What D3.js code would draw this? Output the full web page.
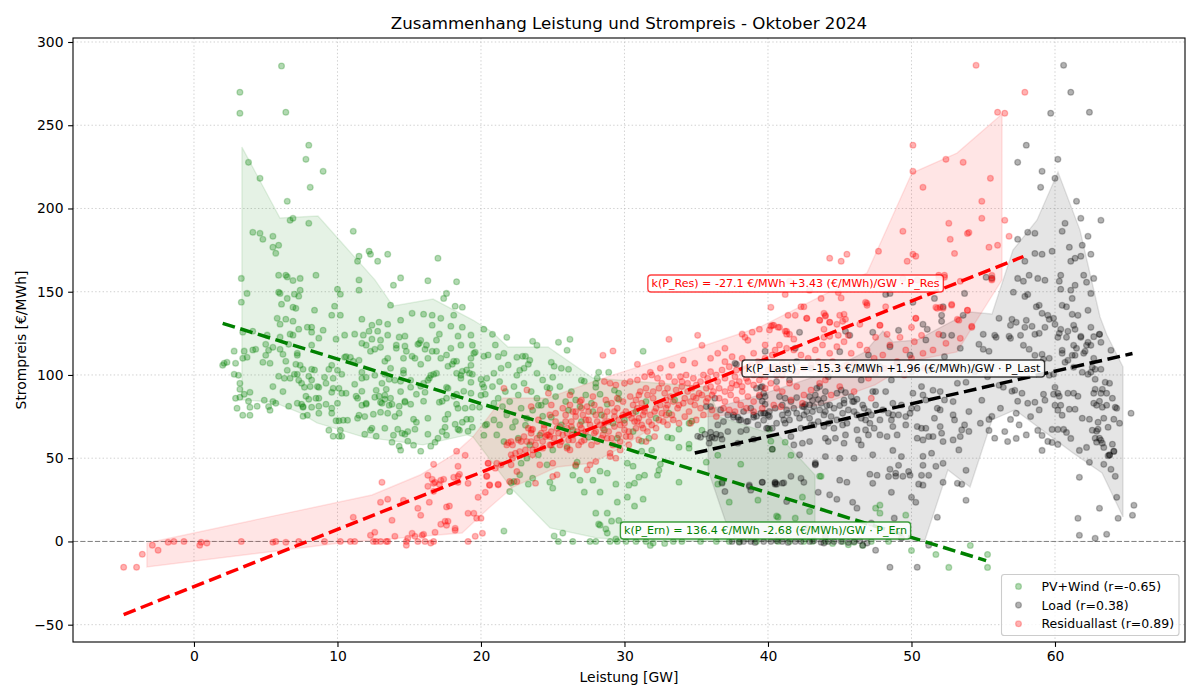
<!DOCTYPE html>
<html lang="de">
<head>
<meta charset="utf-8">
<title>Zusammenhang Leistung und Strompreis</title>
<script src="https://cdn.jsdelivr.net/npm/d3@7"></script>
<style>
  html, body { margin: 0; background: #fff; }
  svg { display: block; }
  text { font-family: "DejaVu Sans", sans-serif; fill: #000; }
</style>
</head>
<body>
<svg id="chart" width="1200" height="700"></svg>
<script>
// Stündliche Werte Oktober 2024: [Leistung in GW, Strompreis in €/MWh]
const pvWindPoints = [
[6.1,285.6],[3.2,269.8],[3.2,257.2],[6.4,257.8],[8,238],[7.8,229.5],[3.8,227.7],[9,222.3],[4.6,218.1],[8.1,212.7],[6.5,204.3],[6.9,194.1],[6.7,192.9],[8,191.1],[11.1,186.3],[4.1,185.7],[4.6,185.1],[5.5,183.3],[4.8,181.5],[5.9,177.9],[5.5,176.7],[5.7,173.1],[12.2,174.3],[12.3,172.5],[11.5,171.3],[13.5,172.5],[11.4,168.3],[12.8,168.3],[17,170.1],
[3.3,158],[5.9,159.9],[6.4,159.9],[6.5,158.9],[6.9,156.7],[7.4,158],[8.5,159.9],[11.5,157],[14.4,158.3],[16.3,156.6],[18.3,156],[13.9,153.9],[3.7,149],[5.9,149.7],[6,149],[7,148.5],[7.4,150.9],[7.3,147.3],[6.5,146],[10,151.5],[10.2,148.5],[11.5,150.9],[3.3,143.7],[6.1,142.5],[6.9,140.7],[7.1,140],[9.8,141.3],[8.4,138.9],[9.6,135.9],[10.2,135.9],[13.7,141.9],[17.6,149],[17.4,146],[18.2,141.3],[18.7,140.7],[15.2,137],[16,136.5],[16.6,135.9],[17.2,134],[18.1,135.9],[11.7,133.5],[14.4,132.9],[5.8,134],[6.4,133.5],[6.9,132.3],[6,130.5],[13.5,130.5],[12.9,131.7],[12.4,129.9],[16.6,129.9],[17.9,129.3],[18.7,128.7],[20.2,127.5],[7.9,128.7],[8.2,128.7],[7.3,127.5],[9,126.9],[8.2,125.7],[12.2,126.3],[12.8,126.3],[10.5,123.9],[11.2,124.5],[11.8,123.9],[17.1,124.5],[18.4,123.3],[19.3,123.9],[13.5,123.9],[14.3,122.7],[14.7,123.3],[3.4,125.7],[4.1,126.3],[5.1,123.9],[6,122.7],[6.7,124.5],[6.9,123.9],[8.7,122.1],[9.9,121.5],[12.4,121.5],[13,120.9],[16.9,120.9],
[2.8,114.3],[3.5,114.3],[3.4,110],[3.7,110.6],[4.1,115],[4.3,115.4],[2,105.8],[2.1,107],[2.3,107.6],[2.9,107],[2.8,100.4],[3.1,99.8],[3.2,95],[3.2,91.4],[2.9,86],[3.2,86.6],[3.5,88.4],[3.9,89.6],[3.8,84.2],[3,80],[3.9,80.6],[3.4,75.8],[3.9,75.8],[4.4,81.2],[4.9,84.8],[5.2,81],[5.3,78.8],[5.5,84],[5.7,83],[6.6,81.2],[7.2,83],[7.5,82.4],[7.6,81],[7.6,80.6],[7.6,75.2],[7.9,75.8],[8.2,80.6],[8.7,81.2],[8.7,77],[9.2,82.4],[9.6,80],[9.6,77],[10,83],[7.8,87.2],[8,85.4],[8.5,86],[8.7,86],[9.6,89.6],[10.1,92],[10.3,89],[10.6,89],[9.7,92],[5.9,99.2],[6.3,98],[6.7,98],[6.5,102.8],[7,100.4],[7.2,100.4],[7.1,106.4],[7.4,105.8],[7.6,103.4],[7.3,96.8],[7.5,95],[7.7,92.6],[8.1,93],[8.2,103.4],[8.4,103],[8,99.2],[8.2,97],[8.6,93],[8.7,92.6],[9.2,95],[9.1,98.6],[9.4,103.4],[9.6,105.8],[10,102.8],[10.3,100.4],[9.7,98],[5.5,93],[6.2,90],[4.8,107.6],[5.3,107],[5,111.8],[5.2,114.8],[5.5,116.6],[5,118.4],[6,115.4],[6.2,112.4],[6.4,108.2],[7.2,113],[7.2,111.8],[6.6,118.4],[8.2,117.9],
[10.7,72.8],[9.9,72.5],[10.1,72.5],[10.4,72.8],[9.4,66.8],[10.2,66.8],[9.7,63.2],[10.1,63.2],[10.3,63.2],[11.2,94.4],[11.7,90.2],[11.3,87.2],[11.4,86],[11.7,81.8],[12,82.4],[12,83],[11.5,75.8],[11.4,74],[11.9,75],[11.9,64.4],[12.7,63.2],[12.4,68],[12.3,66.8],[13.3,68],[13.9,63.8],[13.8,59.6],[14.3,57.2],[14.4,54.8],[14.2,67.4],[14.5,65],[14.7,64.4],[14.9,66],[14.9,60.2],[15.3,57.8],[15.4,67.4],[16.3,64.4],[15.8,54.2],[16.5,57.2],[16.8,59.6],[17,62],[17.3,66],[17.5,68.6],[17.6,63.8],[17.7,76.4],[16.3,74],[15.3,73.4],[15.5,71.6],[14.3,77],[14,75],[13.5,77],[13,77.6],[12.5,76.4],[12.6,86.6],[12.7,90.8],[12.9,87.2],[13.3,87.8],[13.4,91.4],[13.7,86],[13.8,82.4],[13.6,81.8],[13.1,83],[13,83.6],[13.3,85.4],[14.4,90],[14.7,84.2],[14.3,81.2],[15.1,82.4],[14.7,83.6],[16,84.2],[16.1,89.6],[15.5,88.4],[15.8,93.2],[15.1,92.6],[14.6,102.8],[14.6,101],[14,96.8],[14.4,96.2],[13.6,97.4],[13.3,100.4],[13.7,104],[12.6,99.8],[12,98.6],[11.7,98],[11.7,101.6],[13.1,95],[10.6,111],[10.9,110.6],[11.1,108.2],[11.5,108.8],[10.5,110.6],
[11.7,119],[12,117.9],[12.3,114.2],[12.6,115.4],[13,116.6],[13.3,108.2],[13.5,110],[14.1,116],[14.1,117.9],[14.7,117.3],[14.8,114.2],[14.6,110],[15.2,111.2],[15.4,110],[15.6,118.4],[15.8,120.8],[15.7,119],[16.2,117.9],[16.1,115.4],[16.3,110],[15.8,106.4],[16.6,114.2],[16.9,114.2],[17.2,110],[17.6,112],[17.9,116],[18.1,108.2],[18.3,108.2],[17.7,105.2],[18,106.4],[18.6,117.9],[19.4,117.9],[19.5,113],[19.6,113.6],[19.3,110],[20.2,111.2],[20.5,112],[19.3,105.8],[19.2,101],[19.4,100.4],[18.3,101],[19,103],[18.7,102.2],[18.6,99.8],[18.6,98],[16.9,101],[16.7,100.4],[16.5,99.8],[16.4,98],[16.3,96.8],[16,95],[15.1,96.8],[19.3,95.6],[20,97.4],[20.4,98],[20.1,94.4],[20.2,92.6],[20.3,88.4],[20,87.8],[19.3,89],[18.8,90.2],[18.3,82.4],[18.4,80],[18.9,80],[19.4,80.6],[19.9,80.6],[18.3,88.4],[18.1,87.2],[17.6,92.6],[17.7,92],[17.6,86],[17.3,84.2],[17.1,83.6],[17.5,73.4],[18.2,70.4],[18.4,67.4],[18.5,66.8],[18.7,71.6],[19,73.4],[19.3,73.4],[19.4,68.6],[19.1,66.2],[20.4,70.4],[20.3,69.8],[20.2,63.8],
[20.8,124.4],[21.8,122.6],[23.6,120.2],[23.9,117.8],[25.4,119.6],[26.2,121.4],[26,114.8],[31.3,114.2],[22.5,110.6],[22.9,111.2],[23.1,111.2],[23.4,108.8],[23.3,106.4],[23,104],[22.7,102.8],[22.5,99.8],[24.9,107.6],[25.1,105.2],[25.6,104],[26.1,103.4],[23.9,101],[25,98.6],[24.6,92.6],[24.8,92],[27,96.8],[27.2,96.2],[28.9,101.6],[28.2,101.6],[28.1,98],[28,95],[28,92.6],[29.3,90.8],[29.6,89],[28.3,88.4],[29.6,85.4],[28.8,82.4],[24,81.8],[24.2,81.8],[26.1,78.8],[24.9,74.6],[24.3,75.2],[23.6,78.8],[22.2,68.6],[23.1,69.8],[24.1,63.8],[27.5,62.6],[31.2,60.2],[31.7,62],[33.8,67.4],[33.1,77],[34.7,72.2],[34.5,71],[33.8,56.6],[34.5,58.4],[34.5,56],[31.9,54.8],[31.2,54.2],[33.3,62],[33,62.6],[35.4,66.8],[36.5,51.8],[35.7,47.6],[38.1,46.4],[33.8,35.6],[30.2,47],[30.6,45.2],[32.5,46.4],[32.4,42.8],[32.3,39.8],[31.4,39.8],[31,38.6],[30.7,35],[30.3,33.8],[29.4,34.4],[28.3,29.6],[28.3,42.2],[28.8,41],[27.8,36.8],[26.7,47.6],[26.6,45.2],[26.9,36.8],[26.4,39.8],[25,32],[24.8,35.6],[27.2,29.6],[29.5,23.6],[30.2,26.6],[31.3,25.4],[30.7,21.2],[28,17],[28.8,17],[29.1,12.2],[28.2,10.4],[28.3,9.8],[28.7,7.4],[28.8,5],[29.6,12.6],[25.7,5],[25.1,3.2],[21.6,6.2],[25.4,0],[26.4,0],[27.6,0],[28,0],[29,0],[29.4,1.4],[29.5,0],[30.1,0],[30.8,0],[31.5,0],[31.8,-2.4],[32,-1],[32.8,-1.2],[33.4,0],[34,0],[35.3,0],[36.4,0],[36.5,34.4],[36.8,35.6],[37.3,23.6],[39.3,24.8],[40.7,14.6],[22.7,40],[22.3,36],[22.1,35.2],[23.3,34.4],[23.6,38],[22.8,47],[22,30],[24.6,46],
[21,118],[21.2,111],[21.6,113],[21.4,104],[21.9,106],[20.9,101],[21.3,96],[20.8,93],[21.7,90],[21.2,86],[20.9,83],[21.5,81],[22,84],[22.3,93],[22.6,88],[23,95],[23.5,90],[23.9,86],[24.3,97],[24.5,84],[25.2,87],[25.5,93],[25.9,84],[26.3,90],[26.6,85],[26.9,81],[27.3,88],[27.7,83],[27.8,78],[28.4,76],[22.8,80],[23.2,74],[22.4,72],[21.8,76],[21.3,70],[20.9,73],[21.1,64],[21.6,60],[22.6,62],[23.4,58],[25.6,70],[26.4,67],[27,72],[28.6,67],[29.2,71],[30,73],[30.6,66],[29.5,62],[26,57],[25,55],[24,52],[23.2,50],[30.8,78],[31.5,84],[32.2,74],[33.5,85],
[40.2,60.2],[41.2,59.6],[41.6,51.8],[40.3,55.4],[40.1,67.4],[43.6,39.2],[43.7,39.1],[42.4,26.6],[40.6,15.2],[41.9,14],[47.5,20],[47.8,21.8],[47.8,17],[49.6,15.8],[54.1,-2.4],[50,-5.4],[51.7,-7.8],[55.3,-7.8],[55.3,-15.6],[52.6,-15.6],[44.5,-1.2],[46.6,-2.4],[37.3,0],[38,0],[39.2,0],[40.7,0],[41.5,0],[42.5,0],[43.1,0],[44,0],[45.2,0],[46,-0.5],[47.2,0],[48.4,0],[45.6,-2],[42.9,18],[43.8,8]
];

const loadPoints = [
[60.6,286],[61.1,269.8],[59.7,257.2],[62.4,257.8],[58,238],[60.2,229.5],[57.4,227.7],[59.1,222.3],[60,218.1],[59,212.7],[61.5,204.3],[61.8,194.1],[63.2,192.9],[60.7,191.1],[60.5,186.3],[58.1,185.7],[58.6,185.1],[62.3,183.3],[57.4,181.5],[61.9,177.9],[61,176.7],[58.6,173],[59.1,172.5],[59.8,174.3],[62.5,172.5],[61.8,171.3],[61.4,170.1],[61.1,168.3],[57.9,168.3],[62.7,158],[62,159.9],[60.4,159.9],[60.3,156.3],[62.2,155.7],[58.2,159.9],[57.4,158],[57.8,156.3],[58.8,158],[59.3,156.9],[61.4,153.9],[60.4,151.5],[61.1,150.9],[57.1,149.7],[62.5,149],[58.1,148.4],[57.9,147.2],[61.2,146],[60.5,141.8],[60.8,141],[58.7,141],[58.9,141.8],[62.3,138.8],[59.1,137],[59.5,135.8],[59.9,134],[59.6,133.4],[61.2,136.4],[61.6,135.8],[56.1,134],[57,133.4],[57.3,131.6],[58,132.8],[60,130.4],[56.9,129.8],[57.9,128.6],[58.4,129.2],[59.3,128.6],[61.3,129.8],[62.5,128.6],[60.4,127.4],[60.9,126.2],[61.4,127.4],[63.1,124.4],[55,124.4],[55.8,123.8],[56.8,123.2],[57.6,123.8],[58.6,124.4],[58.9,125],[60.2,122.6],[61.8,122.6],[62.7,123],
[55.2,158.7],[55.6,158.2],[53.6,135.8],[52.1,135.8],[52.1,132.2],[50.8,130.4],[51.1,127.4],[53.7,149],[51.6,146],[52.2,141],[50.1,143.6],[48.2,148.4],[48.5,149],[52.2,123.8],[52.8,123.8],[47.3,125.6],[49.1,126.8],[42.2,125.6],[45.4,126.2],[45.7,123.8],
[65.3,77],[65.5,21.7],[65.4,15.7],[64.4,13.9],[64.3,26.5],[63.1,19.9],[61.6,13.9],[61.7,3.7],[62.8,1.9],[63.6,4.3],[61.7,38.5],[64.2,39.1],[63.4,46.3],[63.9,43.3],[62.4,47.5],[63.7,51.5],[63.8,52],[64.1,54.1],[61.7,54.7],[62.2,56.5],[63.4,56.5],[57.3,61.9],[59.1,54.7],[59.5,60.1],[59.8,59.5],[60.2,58.3],[61.1,61.9],[59.1,63.7],[58.8,66.7],[59.8,67.3],[60.2,67.3],[60.6,67.3],[60.8,65.5],[56.9,73.3],[55.4,73.3],[55.6,75.1],[55.4,66.7],[54,66.1],[53.8,42.7],[53.2,34.9],[53.5,34.3],[53.8,24.7],[52.2,35.5],[51.8,14.5],[52.2,46.9],[51.7,45.1],[50.8,51.1],[48.7,54.7],[50.8,45.7],[51.2,39.7],[50.7,39.7],[50.5,34.4],[50.8,33.8],[49.8,42],[49.9,39.8],[49.4,39.1],[48.9,41],[48.9,39.2],[48.4,39],[48.5,43.3],[49.1,45.7],[47.1,40.4],[47.6,39.8],[47.3,34.9],[48.6,29.5],[45.0,36.8],[45.5,35.6],[44.8,25.3],[45.9,23.5],[50,26.5],[50.3,23.5],[43.5,29.5],[42.3,37.9],[42.5,35.5],[41.6,39.1],[40.5,35.5],[40.6,34.4],[41,35],[41.1,35.2],[39.6,35.5],[43.3,47.2],[43.3,46.4],[47.5,-5.3],[48.5,-15.5],[50.4,-15.5],[51.2,-2.3],[46.6,-2.3],
[55.9,122.6],[56.9,122],[54.7,118.4],[55,115.4],[55.4,114.2],[57.8,117.8],[58.2,115.4],[58.6,111.8],[59.1,112.4],[59.2,109.4],[59.6,110],[60.5,114.8],[60.5,113],[61.3,117.8],[61.5,116],[62.2,117.8],[62.3,119.6],[62.5,117.8],[63.2,119.6],[63.9,114.8],[63.1,124.4],[60.8,122.6],[60.3,125],[61.8,123.2],[61.2,111.8],[61.4,111.8],[62.1,114.2],[62,113],[62.7,110],[60.9,108.8],[60.7,107.6],[61.3,104.6],[61.9,101.6],[62.6,104.6],[62.8,103.4],[63.2,103.4],[62.5,101.6],[62.3,100.4],[62.8,97.4],[63.8,95],[63.5,95.6],[63.3,91.4],[62.8,91.4],[63.2,89],[63.6,89],[63.1,84.2],[62.7,83],[62.9,81.8],[63.6,81.8],[63.3,80.6],[64.2,80.6],[64.3,80],
[59.9,100.4],[59.6,99.8],[60,92.6],[59.9,88.4],[60.2,89],[60.3,87.2],[60.9,89],[61.3,89],[61.6,87.2],[62.7,89],[64,86],[59.3,84.8],[58.6,83.6],[58.1,83],[57.4,84.2],[59.2,88.4],[57.2,90.8],[57,90.2],[57.7,89],[56.4,92.6],[56.1,93.8],[53.8,95.6],[53.2,95],[54.9,84.8],[51.5,90.8],[60.4,81.8],[60,81.8],[60.2,78.8],[60.5,75.8],[61,79.4],[61.4,79.4],[61.9,74],[62.4,73.4],[63,71.6],[63.4,74],[63,67.4],[64.1,73.4],[64.5,71],[63.7,68.6],[62.9,66.2],[62.6,66.8],[63.1,62],[62.8,62],[63.2,60.8],[62.9,59.6],[63.3,59],[64,58.4],[64.1,54.2],[63.8,51.8],
[39.8,87],[40.8,87],[41.2,86],[41.8,80],[42.4,81],[42.9,82],[43.6,93],[44,90],[44.8,89],[45.3,85],[46,84],[46.7,80],[47.5,90],[48.2,90],[48.7,83],[50.1,89],[50.7,93],[50.8,88],[51,85],[52,90],[52.3,85],[52.9,84],[51.8,80],[52,79],[50,80],[50.4,80],[47.8,73],[46.8,73],[47.2,76],[48.4,77],[48.7,76],[49.1,76],[49.6,75],[49.9,77],[52.9,76],[53,73],[54,78],[50.4,69],[50.7,68],[51,68],[52,69],[52.1,65],[51.5,63],[51.2,63],[52.2,60],[52.9,61],[53.5,67],[53.4,63],[50.8,61],[50.4,62],[49,64],[48.7,69],[48.6,73],[48.3,63],[47.8,64],[47,64],[46.8,67],[46.2,67],[45.4,64],[45.3,59],[46.3,61],[46.5,58],[44.6,68],[44.7,62],[44.2,60],[44,62],[42.9,60],[42.4,59],[43.9,69],[43.2,70],[42.3,68],[41.2,71],[41,76],[40.1,75],[39.8,77],[39.9,68],[41.6,63],[41.8,58],[42.2,52],[43.3,46],[44,51],
[35.1,63.2],[35.3,62.6],[35.6,64.4],[36,65.6],[36.1,62.6],[36.4,64.4],[36.7,63.8],[36.8,61.4],[35.9,62],[35.9,59],[36.3,62],[35.7,81],[36,81],[36.3,86],[36.7,79],[37.2,76],[37.6,74.6],[37.9,74.6],[38.1,73],[38.6,72.2],[39,74.6],[39.2,75.2],[39.5,77],[39.7,72.8],[40,75.8],[39.4,87],[39.7,89],[39.6,84.2],[39.8,82.4],[39.5,92.6],[37.7,107],[37.8,106.4],[39.8,114.2],[38.5,67],[40,68],[40.3,68],[39,61.4],[37.9,59],[40.3,55.4],[39.6,35.6],[40.5,35.2],[40.5,34.4],[38.8,30.8],[38.7,33.8],[38.7,33],
[39.2,92],[39.6,93],[40.6,96],[41.5,97],[41.9,116],[45,114],[43.4,92],[43.3,88],[42.9,87],[42.5,81],[43.2,81],[43.7,83],[44.3,82],[45.1,91],[45.3,83],[45.9,84],[46.6,82],[47.3,90],[37.6,76],[38,73],[38.5,72],[39,76],[39.7,77],[40.1,78],[41.1,73],[41.5,73],[42.5,76],[42.9,74],[43.9,76],[44.8,73],[45.5,71],[46.2,76],[47.1,71],[41.3,79],[41.6,84],[42,86.4],[42.6,82.2],[43.1,84.6],[43.5,85.2],[43.9,86],[44.1,81.6],[44.6,80],[45,81.6],[45.4,89.4],[45.8,87],[46.2,85.4],[41.2,103],[42,108],[43,104],[44.2,99],[46.5,97],[47.8,105],[49,107],[50,102],[51.3,103],[53.3,105],[54.4,102],[55.3,99],[48.6,97],[47,112],[48.5,117],[49.9,112],[51,121],[52.3,111],[53.4,116],[46.2,103],
[38.3,78],[38.8,80],[40.5,80],[41,82],[41.4,77],[42,77],[42.2,74],[42.7,78],[43.1,78],[43.6,79],[44,78],[44.4,75],[45.2,77],[45.6,79],[46,78],[46.5,74],[47,78],[47.5,82],[48,79],[49.3,82],[43,70],[43.5,72],[44.2,71],[40.6,71],[39.3,70],[38.1,66],[37.2,66],[36.9,72],[36.5,70],[45.2,70],[47.4,68],[49.6,70],[51.6,74],[53.7,70],[54.8,71],[56.2,80],[57.3,77],[58.3,75],[58.9,79],[56.5,66],[57.5,70],[58,64],[56.7,60],[55.8,62],[45,50],[46,50],[47.3,52],[49.3,51],[51.4,53],[53.3,55],
[37.5,0],[38,-0.5],[38.3,0],[38.8,0],[39.1,-0.6],[39.7,0],[40.2,0],[40.6,0.4],[41,0],[41.4,-0.6],[41.9,0],[42.3,0],[42.9,0],[43.2,0.4],[43.7,-0.5],[44.2,0],[44.6,0],[45.1,0],[45.6,-0.6],[46,0],[46.4,0.4],[44,3],[44.9,6],[42.7,8],[43.9,-1],[46.9,-1],[36.8,35],[37,30],[46.2,20],[47.2,11],[48.8,14],[49.3,2],[44.3,28],[41.3,24]
];

const residualPoints = [
[54.5,286],[57.9,269.8],[56,257.8],[56.5,257.2],[50.1,238],[52.4,229.5],[53.6,227.7],[50.1,222.3],[55.5,218.1],[50.8,212.7],[54.9,204.3],[54.9,194.1],[56.5,192.9],[52.6,191.1],[49.4,186.3],[53.9,185],[54,185.6],[56.8,183.3],[52.7,181.5],[56,177.9],[55.4,176.7],[53,173],[47.7,174.3],[50.1,172.5],[50.3,171.3],[45.5,172.5],[44.3,170.1],[49.7,168.3],[45.1,168.3],[51.9,159.9],[52.3,159.9],[55.6,159.8],[55.6,157.8],[53.4,156.3],[41.5,156.3],[42.9,150.9],[44.9,149.5],[45.1,146.2],[43.7,146],[41.2,148.4],[46.8,143.6],[46.9,141.8],[48.2,141],[40.2,140.6],[42.3,141],[42.5,141],[52,140.6],[51.7,140.6],[52.8,142.4],[53.9,138.8],[50.3,134],[53.2,133.4],[41.4,135.8],[41.9,135.8],[42.7,134],[43.6,132.8],[43.9,137],[44,135.8],[45,135.8],[45.3,136.4],[45.4,133.4],[45.2,132.2],[44.3,131.6],[44.8,130.4],[46.4,130.4],[47.8,129.8],[50,128.6],[54.2,128.6],[40.3,129.8],[40.8,128.6],[40.1,127],[41.3,126.2],[43.9,127.4],[41.5,124.4],[44.9,123.8],[44.3,123.2],[43.9,122.6],[45.6,123.8],[47.5,122.6],[48.3,124.4],[49.2,122.6],[50.7,123.8],[51.9,124.4],
[-4.9,-15.5],[-4,-15.5],[-3.6,-7.7],[-2.9,-2.3],[-2.5,-5.3],[-1.8,-0.5],[-1.4,0],[-0.7,0],[0.4,-2.3],[0.5,-0.5],[0.9,-1],[3.3,0],[5.5,-0.5],[5.7,0],[6.4,-0.5],[7.3,0],[9.1,0],[10.2,0],[10.9,0],[11.2,0],[12.3,3.7],[12.6,5.5],[11.1,14.5],[12.5,0],[12.7,0],[13,0],[13.4,0],[13.5,0],[13,23.5],[13.5,25.3],[13.1,35.5],[13.8,12.7],[14,3.1],[14.6,24.7],[14.8,0],[14.8,-2.3],[14.9,1.9],[15.2,4.9],[15.4,3.1],[15.9,3.7],[16,4.3],[15.6,0],[16.1,0],[16.5,-1],[16.7,0],[16.8,5.5],[15.6,19.9],[15.8,15.7],[16.4,23.5],[16.3,39.7],[16.3,33.1],[16.6,37.3],[16.7,46.3],[16.7,34.9],[16.7,30.1],[16.8,35.5],[17.1,34.3],[17.2,36.7],[17.4,37.3],[17.2,10.3],[17.5,12.1],[17.7,12.1],[17.6,9.7],[17.6,20.7],[17.8,21.3],[18.2,6.7],[18.2,7.9],[18.1,38.5],[18.4,45.1],[18.3,54.2],[18.9,51.7],[18.4,39.1],[18.5,40.3],[18.4,35.5],[19.1,16.9],[19.5,16.9],[19.7,13.9],[20,13.9],[19.1,0],[19.6,3.1],[20.1,4.9],[19.8,26.5],[20.3,29.5],[20.6,33.7],[20.5,46.9],[21.2,34.3],[21.1,46.9],[19.1,34.9],
[23.2,91],[24.7,89],[21.6,92],[26.2,88],[24.8,76],[23.5,81],[23.6,67.4],[24.6,64],[23.3,68],[23.5,67],[21.9,59.4],[22.1,60],[21.8,58],[22.2,58],[22.6,61],[22.8,60],[23.2,60],[23.5,60],[24.5,63],[24.7,64],[24.8,63],[25.4,65],[25.5,69],[25.9,72],[26.3,72],[26.6,75],[26,68],[26.3,69],[26.9,70],[27.3,73],[27.5,73],[27.1,65],[27.2,61],[26.1,61],[26,56],[26.2,55],[27,60],[25.5,58],[22.1,52],[22.4,53],[22.7,54],[23.1,55],[23.6,55],[24.3,56],[24.8,58],[23.6,52],[22.1,46],[21.4,46],[22.2,50],[21,44],[20.5,47],[22.5,42],[20.4,39],[20.4,39.4],[20.6,34],[21.2,34],[25,39],[22.5,36],[22,36],[24.1,46],[25,47],[26.6,46],[27.4,43],[27.6,46],[28,48],[23.8,35],[25.3,40],[29,53],[29.4,50],
[28.5,111.8],[29.2,114.4],[30.9,106.4],[33.1,121.4],[35.1,123.8],[35.4,117.8],[33.3,105.8],[31.8,101.6],[32.5,104],[34.1,109],[34.9,107],[36,110],[36.5,113],[37,116],[37.5,111],[38.2,124.5],[38.4,122.6],[38.6,120.8],[38.9,125.7],[39.4,127.5],[40.2,129.3],[40.4,129.9],[40.7,128.7],[41.2,126.3],[41.3,124.5],[41.8,121.5],[42.7,134],[43.6,132.9],[44,135.3],[44.3,131.7],[46.9,143],[47.8,129.9],[50.3,134],[53.9,138.9],[52.8,141.9],[52.2,140],[51.8,140],[53.3,132.9],[54.2,129.3],[55.6,157],[52.3,158.7],[51.9,158.7],[49.4,158],[50.4,157],
[28.6,96],[29,95],[29.4,94],[30,95],[30.4,96],[30.9,97],[31.4,99],[31.9,100],[32.3,98],[33.1,99],[33.9,99],[34.3,100],[34.8,98],[35.3,96],[35.8,98],[36.4,100],[36.8,103],[37.3,105],[37.8,103],[38.3,102],[38.8,106],[39.3,108],[39.8,110],[40.3,112],[40.8,118],[41.3,116],[41.8,115],[42.3,112],[42.8,110],[43.3,115],[43.8,118],[44.3,113],[44.8,117],[45.3,120],[45.8,113],[46.4,118],[46.9,115],[47.4,110],[48,112],[48.5,118],[49,108],[49.6,115],[50.2,120],[50.8,113],[51.5,115],[52.4,119],[53.4,122],[36,93],[36.5,96],[37,98],[37.5,95],[38,96],[38.5,98],[39,94],[39.5,100],[40,103],[40.5,105],[41,107],[41.5,106],[42,102],[42.5,104],[43,106],[43.5,108],[44,105],[44.5,108],[45,104],[45.5,106],[46,107],[46.5,104],[47,98],[47.5,101],[48.1,104],[49.5,100],[50,110],[50.9,104],
[27,80],[27.4,81],[27.9,82],[28.3,79],[28.7,85],[29.1,83],[29.5,86],[29.9,84],[30.4,87],[30.8,85],[31.2,83],[31.6,88],[32,90],[32.4,92],[32.8,89],[33.2,87],[33.6,91],[34,93],[34.4,90],[34.8,87],[35.2,89],[35.7,92],[36.1,88],[36.6,86],[37,84],[37.4,88],[37.8,85],[38.2,90],[38.6,87],[39,84],[39.4,88],[39.8,92],[40.2,95],[40.6,92],[41,90],[41.5,95],[42,93],[42.5,88],[43,91],[43.6,95],[44,97],[44.4,88],[45,93],[46,90],[47.2,86],
[28.5,68],[28.9,72],[29.3,75],[29.7,70],[30.1,78],[30.5,74],[30.9,80],[31.3,76],[31.7,72],[32.1,78],[32.5,82],[32.9,80],[33.3,76],[33.7,80],[34.1,83],[34.5,78],[34.9,82],[35.3,80],[35.7,84],[36.1,79],[36.4,75],[36.9,80],[37.3,79],[37.7,78],[38.1,82],[38.5,80],[39,78],[39.6,80],[40.4,82],[40.9,81],[41.6,85],[42.4,83],
[27.7,58],[28.1,60],[28.4,62],[28.8,62],[29.2,58],[29.6,64],[30,67],[30.4,63],[30.8,68],[31.2,70],[31.6,66],[32.2,68],[32.7,72],[33,70],[33.4,73],[33.8,71],[34.2,75],[34.6,71],[35,73],[35.5,76],[29,51],[29.7,55],[30.3,58],[31,61],[31.5,60],[30.1,63],[32.1,63],[26.6,78],[27.1,76],[28,76],[28.6,75],[29.5,80],[30.6,77],[31.4,80],[32.9,85],[27,85],[27.8,87],[25.7,80],[24.9,82],[26.2,82],[25.2,72],[24,73],[24.4,70],
[23.9,62],[24.2,65],[24.9,66],[25.1,62],[25.3,68],[25.7,64],[26,65],[26.4,64],[26.7,66],[27,68],[27.3,66],[27.6,70],[28,66],[28.3,70],[28.6,71],[28.9,66],[29.3,69],[29.6,73],[30,71],[30.3,76],[30.7,72],[31,74],[31.4,78],[31.8,76],[32.2,80],[32.6,77],[33,82],[33.4,84],[33.8,82],[34.2,86],[34.6,84],[35,86],[35.4,88],[35.8,86],[36.2,90],[36.6,92],[37,90],[37.4,92],[37.8,94],[38.2,93],[38.6,96],[39,100],[39.4,97],[39.8,99],[40.2,104],[40.6,100],[41,100],[31.1,90],[31.5,92],[32,86],[32.6,95],[33,92],[33.5,96],[34,96],[34.4,95],[34.7,92],[35,94],[35.5,100],[36,102],[37,108],[37.7,99],[38.2,110],[39,113],[39.8,118],[40.5,115],[26.8,58],[26.4,61],[25.6,60],[24.9,58],[24.3,60],[23.8,58],[23,63],[23.5,65],[24.4,68],[25.2,77],[25.9,76],[26.4,78],[26.9,84],[27.5,78],[28.1,72],[28.8,78],[29.3,78],[29.9,76],[30.6,82],[31,88],[27.9,65],[28.5,64],[29.1,62],[29.7,60],[30.3,66],[30.9,72],[31.3,68],[31.9,70],[32.4,73],[32.9,76]
];

const categoryLabels = ["PV+Wind (r=-0.65)", "Load (r=0.38)", "Residuallast (r=0.89)"];

// Streubänder: obere und untere Kante je Reihe als [Leistung, Preis]
const pvWindUpper = [[3.34,236.9],[5.99,194.3],[8.64,195.5],[12.61,157.1],[13.87,141.4],[16.66,145.6],[19.44,133],[20.77,125.8],[21.88,116.8],[24.67,116.8],[27.8,98.2],[35.75,92.8],[36.66,74.8],[40.84,62.8],[43.28,39.9]];
const pvWindLower = [[3.34,85],[5.5,83.8],[7.39,77.2],[8.57,71.2],[11.78,62.8],[15.96,58],[19.02,64],[19.44,62.8],[22.23,30.9],[24.81,8.1],[28.08,2.1],[31.08,0.3],[43.28,0.3]];
const loadUpper = [[35.82,79],[39.44,88],[43.62,100],[46.76,113.8],[48.01,126.4],[48.71,119.8],[50.38,121],[52.33,130],[54.08,137.8],[55.61,136.6],[57.07,175],[58.75,193.1],[60.21,221.9],[61.74,187],[63.14,134.8],[63.62,124],[64.74,104.8]];
const loadLower = [[35.82,43],[37,13],[37.8,0.3],[50.94,0.9],[52.54,42.9],[54.08,32.7],[55.61,73],[57.21,79],[61.25,53.2],[63.28,41.1],[64.74,14.7]];
const residualUpper = [[-3.28,-0.9],[12.4,27.9],[15.75,39.9],[18.05,52],[19.44,62.8],[21.53,86.2],[24.67,86.2],[28.15,97],[35.26,116.8],[39.44,128.8],[46.9,161.3],[50.03,221.3],[53.17,233.3],[56.31,256.8]];
const residualLower = [[-3.28,-15.3],[6.9,-4.5],[10.17,-0.9],[18.68,5.1],[20.63,20.7],[22.23,32.7],[25.3,44.7],[27.8,47.1],[29.69,56.2],[32.47,71.2],[35.75,74.8],[39.44,77.8],[43.62,82],[47.46,94],[50.38,109],[53.17,113.8],[54.42,131.2],[56.31,157.1]];

// Regressionsgeraden: Achsenabschnitt, Steigung und Wertebereich der Leistung
const fitIntercepts = [136.4, -15.3, -27.1];
const fitSlopes = [-2.68, 1.96, 3.43];
const fitRanges = [[2.0, 55.2], [34.9, 65.4], [-4.9, 57.8]];
const fitLabels = [
  "k(P_Ern) = 136.4 €/MWh -2.68 (€/MWh)/GW · P_Ern",
  "k(P_Last) = -15.3 €/MWh +1.96 (€/MWh)/GW · P_Last",
  "k(P_Res) = -27.1 €/MWh +3.43 (€/MWh)/GW · P_Res"
];
const xTickValues = [0, 10, 20, 30, 40, 50, 60];
const yTickValues = [-50, 0, 50, 100, 150, 200, 250, 300];

const colors = ["#008000", "#000000", "#ff0000"];
const plot = { left: 73, right: 1185, top: 38, bottom: 642 };
const FONT_TICK = 13.9;

const svg = d3.select("#chart");
const x = d3.scaleLinear().domain([-8.43, 69.06]).range([plot.left, plot.right]);
const y = d3.scaleLinear().domain([-60.4, 302.4]).range([plot.bottom, plot.top]);

svg.append("defs").append("clipPath").attr("id", "plot-clip").append("rect")
  .attr("x", plot.left).attr("y", plot.top)
  .attr("width", plot.right - plot.left).attr("height", plot.bottom - plot.top);

// Gitternetz
const grid = svg.append("g").attr("stroke", "#b0b0b0").attr("stroke-opacity", 0.6)
  .attr("stroke-width", 1).attr("stroke-dasharray", "1.4,2.3");
grid.selectAll(".gx").data(xTickValues).join("line").attr("class", "gx")
  .attr("x1", d => x(d)).attr("x2", d => x(d)).attr("y1", plot.top).attr("y2", plot.bottom);
grid.selectAll(".gy").data(yTickValues).join("line").attr("class", "gy")
  .attr("y1", d => y(d)).attr("y2", d => y(d)).attr("x1", plot.left).attr("x2", plot.right);

const body = svg.append("g").attr("clip-path", "url(#plot-clip)");

// Nulllinie
body.append("line").attr("x1", plot.left).attr("x2", plot.right)
  .attr("y1", y(0)).attr("y2", y(0))
  .attr("stroke", "#808080").attr("stroke-width", 1).attr("stroke-dasharray", "5.1,2.2");

// Streubänder
const edge = d3.line().x(d => x(d[0])).y(d => y(d[1]));
const bands = [[pvWindUpper, pvWindLower], [loadUpper, loadLower], [residualUpper, residualLower]];
bands.forEach(([upper, lower], i) => {
  body.append("path")
    .attr("d", edge(upper.concat(lower.slice().reverse())) + "Z")
    .attr("fill", colors[i]).attr("fill-opacity", 0.1)
    .attr("stroke", colors[i]).attr("stroke-opacity", 0.1).attr("stroke-width", 1.4);
});

// Punktwolken
const series = [pvWindPoints, loadPoints, residualPoints];
series.forEach((points, i) => {
  body.append("g").selectAll("circle").data(points).join("circle")
    .attr("cx", d => x(d[0])).attr("cy", d => y(d[1])).attr("r", 2.9)
    .attr("fill", colors[i]).attr("fill-opacity", 0.3)
    .attr("stroke", colors[i]).attr("stroke-opacity", 0.25).attr("stroke-width", 1.3);
});

// Regressionsgeraden
fitRanges.forEach((range, i) => {
  const line = d3.line().x(d => x(d)).y(d => y(fitIntercepts[i] + fitSlopes[i] * d));
  body.append("path").attr("d", line(range)).attr("fill", "none")
    .attr("stroke", colors[i]).attr("stroke-width", 3.47).attr("stroke-dasharray", "12.8,5.6");
});

// Beschriftung der Geraden mit abgerundetem Rahmen
const labelAnchors = [[765.5, 530.5], [893, 368.5], [795.5, 283.5]];
fitLabels.forEach((text, i) => {
  const g = svg.append("g");
  const t = g.append("text").text(text)
    .attr("x", labelAnchors[i][0]).attr("y", labelAnchors[i][1])
    .attr("text-anchor", "middle").attr("dominant-baseline", "central")
    .attr("font-size", 11.1).style("fill", colors[i]);
  const b = t.node().getBBox();
  g.insert("rect", "text")
    .attr("x", b.x - 3.6).attr("y", labelAnchors[i][1] - 8.5)
    .attr("width", b.width + 7.2).attr("height", 17).attr("rx", 3.2)
    .attr("fill", "#fff").attr("fill-opacity", 0.85)
    .attr("stroke", colors[i]).attr("stroke-opacity", 0.75).attr("stroke-width", 1.4);
});

// Achsenrahmen und Achsen
svg.append("rect").attr("x", plot.left).attr("y", plot.top)
  .attr("width", plot.right - plot.left).attr("height", plot.bottom - plot.top)
  .attr("fill", "none").attr("stroke", "#000").attr("stroke-width", 1.1);

const xAxis = svg.append("g").attr("transform", `translate(0,${plot.bottom})`)
  .call(d3.axisBottom(x).tickValues(xTickValues).tickSize(4.9).tickPadding(4.6));
const yAxis = svg.append("g").attr("transform", `translate(${plot.left},0)`)
  .call(d3.axisLeft(y).tickValues(yTickValues).tickSize(4.9).tickPadding(4.6));
[xAxis, yAxis].forEach(a => {
  a.select(".domain").remove();
  a.selectAll(".tick line").attr("stroke", "#000").attr("stroke-width", 1.1);
  a.selectAll(".tick text").attr("font-size", FONT_TICK).attr("font-family", "DejaVu Sans").style("fill", "#000");
});

svg.append("text").attr("x", 629).attr("y", 29).attr("text-anchor", "middle")
  .attr("font-size", 16.67).text("Zusammenhang Leistung und Strompreis - Oktober 2024");
svg.append("text").attr("x", 629).attr("y", 682).attr("text-anchor", "middle")
  .attr("font-size", FONT_TICK).text("Leistung [GW]");
svg.append("text").attr("transform", "translate(26,340) rotate(-90)").attr("text-anchor", "middle")
  .attr("font-size", FONT_TICK).text("Strompreis [€/MWh]");

// Legende
const legend = svg.append("g");
legend.append("rect").attr("x", 1001.5).attr("y", 574.5).attr("width", 177.5).attr("height", 61).attr("rx", 2.8)
  .attr("fill", "#fff").attr("fill-opacity", 0.8).attr("stroke", "#ccc").attr("stroke-width", 1.1);
categoryLabels.forEach((label, i) => {
  const ly = 586.4 + i * 18.7;
  legend.append("circle").attr("cx", 1018.5).attr("cy", ly).attr("r", 2.9)
    .attr("fill", colors[i]).attr("fill-opacity", 0.3)
    .attr("stroke", colors[i]).attr("stroke-opacity", 0.25).attr("stroke-width", 1.3);
  legend.append("text").attr("x", 1041.5).attr("y", ly).attr("dominant-baseline", "central")
    .attr("font-size", 12.5).text(label);
});
</script>
</body>
</html>
